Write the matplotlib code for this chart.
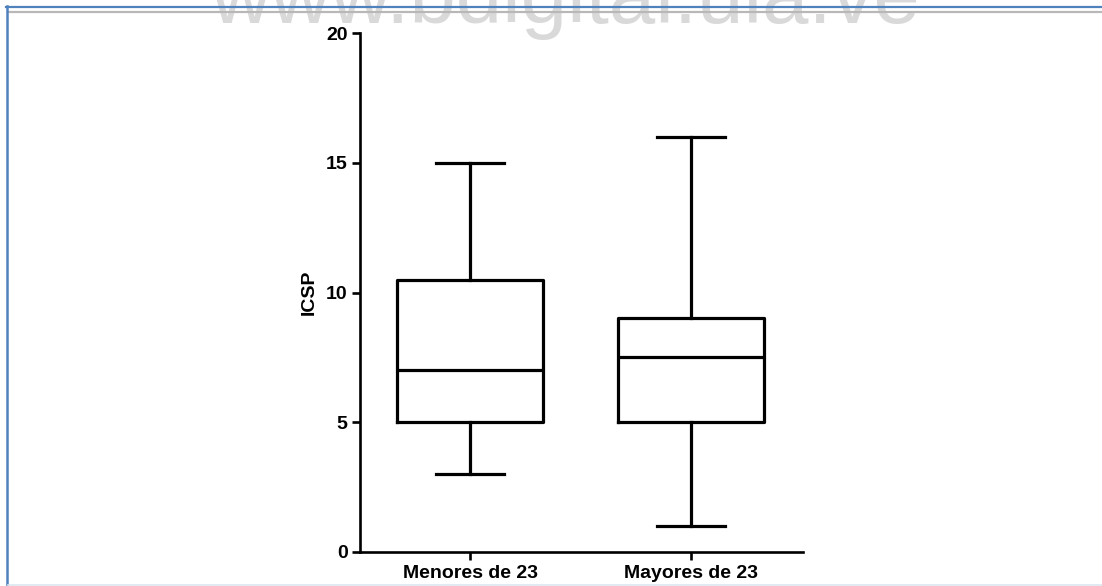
import matplotlib
matplotlib.use("Agg")
import matplotlib.pyplot as plt
from matplotlib.lines import Line2D

# Data
categories = ["Menores de 23", "Mayores de 23"]
whisker_low = [3, 1]
q1 = [5, 5]
median = [7, 7.5]
q3 = [10.5, 9]
whisker_high = [15, 16]
y_ticks = [0, 5, 10, 15, 20]
y_label = "ICSP"
watermark = "www.bdigital.ula.ve"

plt.rcParams['font.family'] = ['Liberation Sans', 'DejaVu Sans']

W, H = 1102, 586
fig = plt.figure(figsize=(W / 100, H / 100), dpi=100)
fig.patch.set_facecolor('white')

# watermark
fig.text(565 / W, 1 - 23 / H, watermark, ha='center', va='baseline',
         fontsize=60, color='#d9d9d9', zorder=0)

# frame lines
def hline(y, x0, x1, color, lw):
    fig.add_artist(Line2D([x0 / W, x1 / W], [1 - y / H, 1 - y / H],
                          transform=fig.transFigure, color=color, lw=lw, zorder=5))

def vline(x, y0, y1, color, lw):
    fig.add_artist(Line2D([x / W, x / W], [1 - y0 / H, 1 - y1 / H],
                          transform=fig.transFigure, color=color, lw=lw, zorder=5))

hline(6.5, 6, W, '#4f81bd', 1.6)
hline(11.5, 8, W, '#b8b8b8', 1.6)
vline(7, 6, H, '#4f81bd', 1.8)
hline(585, 8, W, '#dce6f0', 1.2)

ax = fig.add_axes([360 / W, 34 / H, (803 - 360) / W, 519 / H])

stats = []
for i, c in enumerate(categories):
    stats.append(dict(label=c, whislo=whisker_low[i], q1=q1[i], med=median[i],
                      q3=q3[i], whishi=whisker_high[i], fliers=[]))

lw = 2.3
ax.bxp(stats, positions=[1, 2], widths=0.665, showfliers=False,
       boxprops=dict(color='black', linewidth=lw),
       medianprops=dict(color='black', linewidth=lw),
       whiskerprops=dict(color='black', linewidth=lw),
       capprops=dict(color='black', linewidth=lw),
       capwidths=0.31)

ax.set_xlim(0.502, 2.507)
ax.set_ylim(0, 20)
ax.set_yticks(y_ticks)
ax.set_yticklabels([str(t) for t in y_ticks], fontweight='bold', fontsize=14)
ax.set_xticks([1, 2])
ax.set_xticklabels(categories, fontweight='bold', fontsize=14)
ax.set_ylabel(y_label, fontweight='bold', fontsize=14, labelpad=6)

for s in ['top', 'right']:
    ax.spines[s].set_visible(False)
for s in ['left', 'bottom']:
    ax.spines[s].set_linewidth(1.9)
ax.tick_params(axis='both', width=1.9, length=6, pad=3)
ax.patch.set_alpha(0)

fig.savefig("out.png", dpi=100, facecolor='white')
